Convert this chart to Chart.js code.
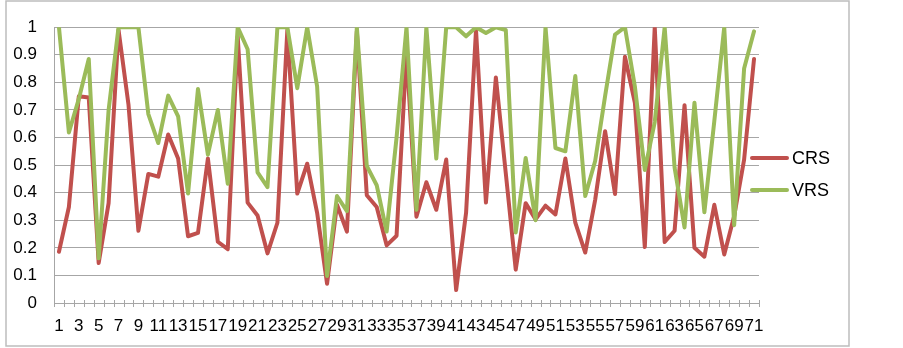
<!DOCTYPE html>
<html>
<head>
<meta charset="utf-8">
<script src="https://cdn.jsdelivr.net/npm/chart.js@4"></script>
<style>
  html, body { margin: 0; padding: 0; background: #fff; }
  canvas { display: block; }
</style>
</head>
<body>
<canvas id="chart" width="903" height="348"></canvas>
<script>
// categories 1..71
const categories = [];
for (let i = 1; i <= 71; i++) categories.push(String(i));

const crsValues = [
  0.186, 0.348, 0.75, 0.745, 0.145, 0.362, 0.99, 0.72, 0.262, 0.468,
  0.458, 0.611, 0.524, 0.242, 0.254, 0.524, 0.222, 0.195, 0.967, 0.364,
  0.317, 0.18, 0.291, 0.99, 0.397, 0.505, 0.327, 0.07, 0.356, 0.259,
  0.985, 0.391, 0.348, 0.209, 0.244, 0.91, 0.313, 0.438, 0.338, 0.52,
  0.047, 0.327, 0.99, 0.364, 0.818, 0.47, 0.121, 0.362, 0.303, 0.353,
  0.321, 0.524, 0.291, 0.183, 0.374, 0.623, 0.395, 0.893, 0.726, 0.203,
  1.0, 0.221, 0.262, 0.717, 0.2, 0.168, 0.356, 0.176, 0.315, 0.52,
  0.885
];

const vrsValues = [
  1.0, 0.618, 0.74, 0.885, 0.162, 0.7, 1.0, 1.0, 1.0, 0.685,
  0.58, 0.752, 0.677, 0.397, 0.776, 0.538, 0.7, 0.432, 1.0, 0.92,
  0.474, 0.42, 1.0, 1.0, 0.779, 1.0, 0.785, 0.098, 0.388, 0.333,
  1.0, 0.497, 0.427, 0.259, 0.6, 1.0, 0.338, 1.0, 0.524, 1.0,
  1.0, 0.967, 1.0, 0.979, 1.0, 0.99, 0.256, 0.526, 0.3, 1.0,
  0.562, 0.55, 0.823, 0.388, 0.515, 0.75, 0.973, 1.0, 0.785, 0.482,
  0.656, 1.0, 0.491, 0.274, 0.726, 0.329, 0.66, 1.0, 0.282, 0.85,
  0.985
];

const yTickLabels = ['0', '0.1', '0.2', '0.3', '0.4', '0.5', '0.6', '0.7', '0.8', '0.9', '1'];

const FONT = "'Liberation Sans', Arial, sans-serif";

// outer frame, cross tick marks on the x axis, legend at the right
const extras = {
  id: 'extras',
  beforeDraw(chart) {
    const ctx = chart.ctx;
    ctx.save();
    ctx.strokeStyle = '#bdbdbd';
    ctx.lineWidth = 1.5;
    ctx.strokeRect(6, 1, 843, 345);
    ctx.restore();
  },
  afterDraw(chart) {
    const ctx = chart.ctx;
    const area = chart.chartArea;
    const n = chart.data.labels.length;
    const step = (area.right - area.left) / n;
    ctx.save();
    ctx.strokeStyle = '#a6a6a6';
    ctx.lineWidth = 1;
    for (let i = 0; i <= n; i++) {
      const x = Math.round(area.left + i * step) + 0.5;
      ctx.beginPath();
      ctx.moveTo(x, area.bottom - 3);
      ctx.lineTo(x, area.bottom + 4);
      ctx.stroke();
    }
    // legend
    const items = chart.data.datasets;
    const rows = [158, 190];
    ctx.font = '18px ' + FONT;
    ctx.textBaseline = 'middle';
    items.forEach((ds, k) => {
      ctx.strokeStyle = ds.borderColor;
      ctx.lineWidth = 4;
      ctx.lineCap = 'round';
      ctx.beginPath();
      ctx.moveTo(752, rows[k]);
      ctx.lineTo(787, rows[k]);
      ctx.stroke();
      ctx.fillStyle = '#000';
      ctx.fillText(ds.label, 792, rows[k] + 1);
    });
    ctx.restore();
  }
};

new Chart(document.getElementById('chart'), {
  type: 'line',
  data: {
    labels: categories,
    datasets: [
      {
        label: 'CRS',
        data: crsValues,
        borderColor: '#c0504d',
        backgroundColor: '#c0504d',
        borderWidth: 4,
        pointRadius: 0,
        tension: 0,
        borderJoinStyle: 'round',
        borderCapStyle: 'round',
        order: 1
      },
      {
        label: 'VRS',
        data: vrsValues,
        borderColor: '#9bbb59',
        backgroundColor: '#9bbb59',
        borderWidth: 4,
        pointRadius: 0,
        tension: 0,
        borderJoinStyle: 'round',
        borderCapStyle: 'round',
        order: 0
      }
    ]
  },
  options: {
    responsive: false,
    animation: false,
    layout: { padding: { left: 0, top: 19, right: 144, bottom: 0 } },
    plugins: {
      legend: { display: false },
      tooltip: { enabled: false }
    },
    scales: {
      x: {
        offset: true,
        grid: { display: false, drawTicks: false },
        border: { display: true, color: '#a6a6a6', width: 1 },
        ticks: {
          autoSkip: false,
          maxRotation: 0,
          padding: 13,
          color: '#000',
          font: { family: FONT, size: 17 },
          callback: (v, i) => (i % 2 === 0 ? categories[i] : '')
        },
        afterFit: (s) => { s.height = 45; }
      },
      y: {
        min: 0,
        max: 1,
        grid: { color: '#a6a6a6', lineWidth: 1, drawTicks: false },
        border: { display: true, color: '#a6a6a6', width: 1 },
        ticks: {
          stepSize: 0.1,
          padding: 17,
          color: '#000',
          font: { family: FONT, size: 17 },
          callback: (v, i) => yTickLabels[i]
        },
        afterFit: (s) => { s.width = 54; }
      }
    }
  },
  plugins: [extras]
});
</script>
</body>
</html>
